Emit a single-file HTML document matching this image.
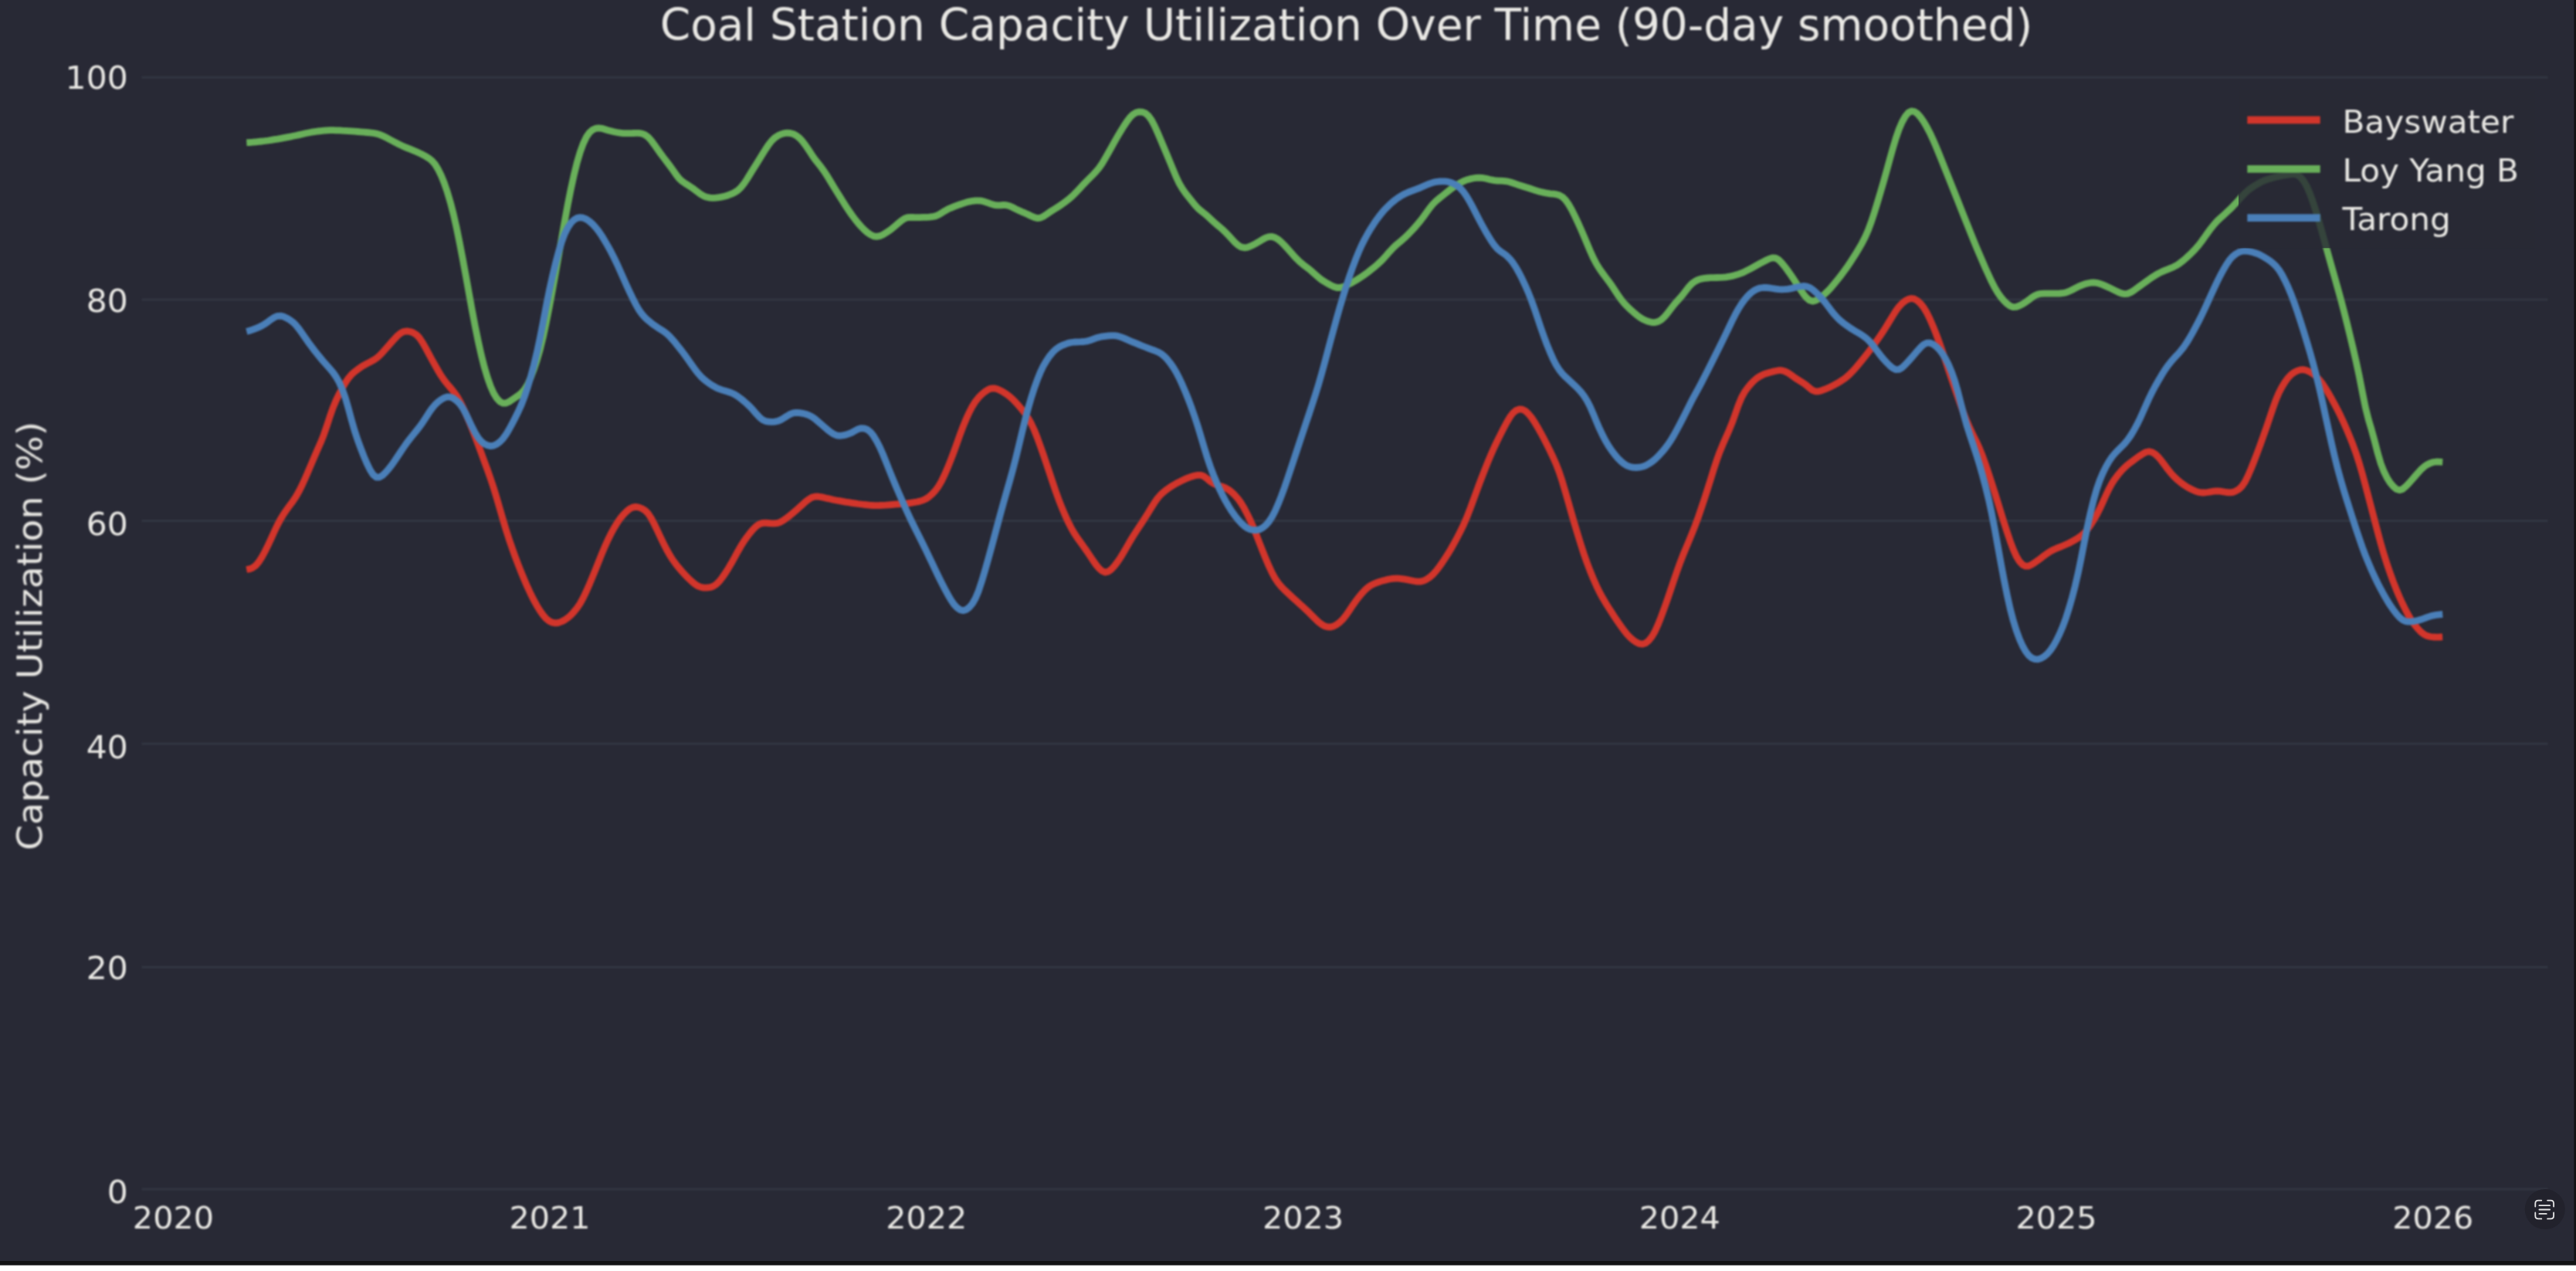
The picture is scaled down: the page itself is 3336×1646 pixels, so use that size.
<!DOCTYPE html>
<html><head><meta charset="utf-8"><title>Coal Station Capacity Utilization</title>
<style>
html,body{margin:0;padding:0;background:#fff;}
body{width:3336px;height:1646px;overflow:hidden;}
svg{display:block;}
text{font-family:"DejaVu Sans","Liberation Sans",sans-serif;fill:#e9e8e4;}
.tick{font-size:42.5px;}
.xtick{font-size:41.3px;}
.leg{font-size:42.2px;}
.title{font-size:56.5px;}
.ylab{font-size:47.3px;}
.ln{fill:none;stroke-width:8.8;stroke-linejoin:round;stroke-linecap:butt;}
</style></head><body>
<svg width="3336" height="1646" viewBox="0 0 3336 1646">
<rect x="0" y="0" width="3336" height="1646" fill="#ffffff"/>
<rect x="0" y="0" width="3336" height="1638.6" fill="#121214"/>
<rect x="0" y="0" width="3333.4" height="1633" fill="#282935"/>

<defs><filter id="soft" color-interpolation-filters="sRGB" filterUnits="userSpaceOnUse" x="0" y="0" width="3336" height="1646"><feGaussianBlur stdDeviation="0.85"/></filter></defs>
<g filter="url(#soft)">
<line x1="183.5" x2="3299.6" y1="1540.0" y2="1540.0" stroke="#323642" stroke-width="3"/>
<line x1="183.5" x2="3299.6" y1="1252.5" y2="1252.5" stroke="#323642" stroke-width="3"/>
<line x1="183.5" x2="3299.6" y1="963.3" y2="963.3" stroke="#323642" stroke-width="3"/>
<line x1="183.5" x2="3299.6" y1="674.5" y2="674.5" stroke="#323642" stroke-width="3"/>
<line x1="183.5" x2="3299.6" y1="388.0" y2="388.0" stroke="#323642" stroke-width="3"/>
<line x1="183.5" x2="3299.6" y1="100.3" y2="100.3" stroke="#323642" stroke-width="3"/>
<path class="ln" stroke="#d2352b" d="M319.2 737.5 L323.2 736.8 L327.2 735.3 L331.2 732.4 L335.2 727.7 L339.2 721.4 L343.2 714.0 L347.2 705.9 L351.2 697.3 L355.2 688.5 L359.2 680.1 L363.2 672.6 L367.2 666.0 L371.2 660.1 L375.2 654.7 L379.2 649.3 L383.2 643.3 L387.2 636.3 L391.2 628.3 L395.2 619.5 L399.2 610.3 L403.2 600.9 L407.2 591.5 L411.2 582.3 L415.2 573.3 L419.2 563.3 L423.2 551.8 L427.2 539.5 L431.2 528.1 L435.2 518.5 L439.2 510.3 L443.2 502.7 L447.2 495.8 L451.2 489.8 L455.2 485.1 L459.2 481.4 L463.2 478.4 L467.2 475.6 L471.2 473.1 L475.2 470.9 L479.2 468.9 L483.2 466.7 L487.2 464.1 L491.2 460.8 L495.2 456.7 L499.2 452.2 L503.2 447.6 L507.2 443.0 L511.2 438.6 L515.2 434.4 L519.2 431.2 L523.2 429.3 L527.2 428.9 L531.2 429.5 L535.2 430.9 L539.2 433.4 L543.2 437.6 L547.2 443.6 L551.2 450.7 L555.2 458.1 L559.2 465.5 L563.2 472.7 L567.2 479.7 L571.2 486.4 L575.2 492.3 L579.2 497.4 L583.2 502.0 L587.2 506.8 L591.2 512.3 L595.2 519.1 L599.2 527.0 L603.2 535.7 L607.2 545.0 L611.2 554.8 L615.2 565.1 L619.2 575.8 L623.2 586.5 L627.2 597.4 L631.2 608.3 L635.2 619.6 L639.2 631.6 L643.2 644.7 L647.2 658.4 L651.2 672.3 L655.2 685.7 L659.2 698.2 L663.2 709.8 L667.2 720.9 L671.2 731.5 L675.2 741.6 L679.2 751.2 L683.2 760.4 L687.2 769.0 L691.2 777.0 L695.2 784.2 L699.2 790.7 L703.2 796.4 L707.2 801.1 L711.2 804.3 L715.2 806.2 L719.2 806.9 L723.2 806.5 L727.2 805.0 L731.2 803.0 L735.2 800.2 L739.2 796.7 L743.2 792.4 L747.2 787.5 L751.2 781.6 L755.2 774.3 L759.2 766.0 L763.2 756.9 L767.2 747.4 L771.2 737.6 L775.2 727.6 L779.2 717.7 L783.2 708.1 L787.2 699.2 L791.2 691.2 L795.2 683.9 L799.2 677.3 L803.2 671.4 L807.2 666.6 L811.2 662.5 L815.2 659.2 L819.2 657.1 L823.2 656.4 L827.2 657.0 L831.2 658.5 L835.2 660.9 L839.2 664.9 L843.2 670.9 L847.2 678.5 L851.2 686.9 L855.2 695.3 L859.2 703.6 L863.2 711.5 L867.2 718.7 L871.2 725.0 L875.2 730.4 L879.2 735.4 L883.2 740.1 L887.2 744.5 L891.2 748.6 L895.2 752.4 L899.2 755.8 L903.2 758.6 L907.2 760.3 L911.2 761.1 L915.2 761.1 L919.2 760.7 L923.2 759.5 L927.2 757.1 L931.2 753.2 L935.2 748.1 L939.2 742.4 L943.2 736.1 L947.2 729.3 L951.2 722.1 L955.2 714.7 L959.2 707.7 L963.2 701.3 L967.2 695.6 L971.2 690.4 L975.2 685.7 L979.2 681.7 L983.2 678.9 L987.2 677.5 L991.2 677.2 L995.2 677.5 L999.2 677.8 L1003.2 677.9 L1007.2 677.3 L1011.2 675.8 L1015.2 673.4 L1019.2 670.5 L1023.2 667.4 L1027.2 664.1 L1031.2 660.7 L1035.2 657.1 L1039.2 653.4 L1043.2 649.8 L1047.2 646.7 L1051.2 644.3 L1055.2 643.1 L1059.2 643.0 L1063.2 643.6 L1067.2 644.4 L1071.2 645.4 L1075.2 646.3 L1079.2 647.2 L1083.2 648.0 L1087.2 648.7 L1091.2 649.4 L1095.2 650.1 L1099.2 650.7 L1103.2 651.3 L1107.2 651.9 L1111.2 652.5 L1115.2 653.0 L1119.2 653.5 L1123.2 653.9 L1127.2 654.3 L1131.2 654.5 L1135.2 654.6 L1139.2 654.5 L1143.2 654.3 L1147.2 654.1 L1151.2 653.8 L1155.2 653.5 L1159.2 653.2 L1163.2 652.9 L1167.2 652.6 L1171.2 652.3 L1175.2 651.9 L1179.2 651.3 L1183.2 650.7 L1187.2 650.0 L1191.2 649.1 L1195.2 647.9 L1199.2 646.0 L1203.2 643.3 L1207.2 639.8 L1211.2 635.5 L1215.2 630.1 L1219.2 623.2 L1223.2 615.0 L1227.2 605.8 L1231.2 595.9 L1235.2 585.4 L1239.2 574.3 L1243.2 563.0 L1247.2 552.4 L1251.2 542.7 L1255.2 534.0 L1259.2 526.3 L1263.2 519.9 L1267.2 514.9 L1271.2 510.9 L1275.2 507.5 L1279.2 504.8 L1283.2 503.1 L1287.2 502.8 L1291.2 503.8 L1295.2 505.5 L1299.2 507.7 L1303.2 510.2 L1307.2 513.2 L1311.2 516.8 L1315.2 520.9 L1319.2 525.3 L1323.2 530.0 L1327.2 535.1 L1331.2 541.0 L1335.2 548.0 L1339.2 556.5 L1343.2 566.5 L1347.2 577.4 L1351.2 588.8 L1355.2 600.6 L1359.2 612.5 L1363.2 624.5 L1367.2 636.3 L1371.2 647.3 L1375.2 657.5 L1379.2 666.9 L1383.2 675.7 L1387.2 683.6 L1391.2 690.5 L1395.2 696.6 L1399.2 702.1 L1403.2 707.7 L1407.2 713.4 L1411.2 719.4 L1415.2 725.4 L1419.2 731.1 L1423.2 736.0 L1427.2 739.5 L1431.2 741.1 L1435.2 740.3 L1439.2 737.4 L1443.2 733.0 L1447.2 727.8 L1451.2 721.9 L1455.2 715.3 L1459.2 708.4 L1463.2 701.4 L1467.2 694.8 L1471.2 688.5 L1475.2 682.4 L1479.2 676.4 L1483.2 670.2 L1487.2 663.7 L1491.2 657.1 L1495.2 650.8 L1499.2 645.1 L1503.2 640.6 L1507.2 636.9 L1511.2 633.8 L1515.2 631.0 L1519.2 628.5 L1523.2 626.2 L1527.2 624.1 L1531.2 622.1 L1535.2 620.2 L1539.2 618.6 L1543.2 617.2 L1547.2 616.0 L1551.2 615.3 L1555.2 615.4 L1559.2 616.9 L1563.2 619.9 L1567.2 623.4 L1571.2 626.1 L1575.2 627.9 L1579.2 629.1 L1583.2 630.3 L1587.2 631.9 L1591.2 634.3 L1595.2 637.5 L1599.2 641.3 L1603.2 645.8 L1607.2 651.4 L1611.2 658.1 L1615.2 665.7 L1619.2 673.9 L1623.2 683.1 L1627.2 693.1 L1631.2 703.5 L1635.2 713.7 L1639.2 723.6 L1643.2 732.9 L1647.2 741.5 L1651.2 748.9 L1655.2 754.8 L1659.2 759.6 L1663.2 763.7 L1667.2 767.5 L1671.2 771.3 L1675.2 775.0 L1679.2 778.6 L1683.2 782.2 L1687.2 785.8 L1691.2 789.5 L1695.2 793.3 L1699.2 797.3 L1703.2 801.4 L1707.2 805.2 L1711.2 808.4 L1715.2 810.7 L1719.2 811.9 L1723.2 812.0 L1727.2 810.9 L1731.2 808.8 L1735.2 805.7 L1739.2 801.8 L1743.2 796.8 L1747.2 791.0 L1751.2 784.9 L1755.2 779.2 L1759.2 773.9 L1763.2 769.0 L1767.2 764.6 L1771.2 760.9 L1775.2 758.1 L1779.2 756.1 L1783.2 754.5 L1787.2 753.1 L1791.2 751.9 L1795.2 750.9 L1799.2 750.0 L1803.2 749.4 L1807.2 749.1 L1811.2 749.2 L1815.2 749.6 L1819.2 750.2 L1823.2 750.9 L1827.2 751.7 L1831.2 752.5 L1835.2 753.1 L1839.2 753.1 L1843.2 752.2 L1847.2 750.4 L1851.2 747.8 L1855.2 744.4 L1859.2 740.1 L1863.2 735.0 L1867.2 729.4 L1871.2 723.4 L1875.2 717.2 L1879.2 710.5 L1883.2 703.4 L1887.2 696.0 L1891.2 688.2 L1895.2 680.0 L1899.2 670.8 L1903.2 660.7 L1907.2 649.9 L1911.2 638.9 L1915.2 628.1 L1919.2 617.6 L1923.2 607.4 L1927.2 597.4 L1931.2 588.0 L1935.2 579.0 L1939.2 570.6 L1943.2 562.6 L1947.2 554.8 L1951.2 547.2 L1955.2 540.4 L1959.2 535.0 L1963.2 531.6 L1967.2 530.0 L1971.2 530.1 L1975.2 532.1 L1979.2 535.7 L1983.2 540.5 L1987.2 546.5 L1991.2 553.2 L1995.2 560.3 L1999.2 567.8 L2003.2 575.5 L2007.2 583.6 L2011.2 592.0 L2015.2 601.0 L2019.2 611.3 L2023.2 623.4 L2027.2 636.9 L2031.2 650.9 L2035.2 665.0 L2039.2 678.7 L2043.2 692.1 L2047.2 705.0 L2051.2 717.4 L2055.2 728.8 L2059.2 739.3 L2063.2 749.0 L2067.2 758.1 L2071.2 766.4 L2075.2 773.8 L2079.2 780.6 L2083.2 787.0 L2087.2 793.2 L2091.2 799.3 L2095.2 805.3 L2099.2 811.0 L2103.2 816.5 L2107.2 821.5 L2111.2 825.7 L2115.2 829.1 L2119.2 831.8 L2123.2 833.7 L2127.2 834.2 L2131.2 832.8 L2135.2 829.6 L2139.2 824.6 L2143.2 817.7 L2147.2 808.9 L2151.2 798.8 L2155.2 788.0 L2159.2 776.7 L2163.2 765.0 L2167.2 753.1 L2171.2 741.3 L2175.2 730.2 L2179.2 719.8 L2183.2 710.1 L2187.2 700.6 L2191.2 690.9 L2195.2 680.8 L2199.2 669.9 L2203.2 658.3 L2207.2 646.3 L2211.2 633.9 L2215.2 621.2 L2219.2 608.3 L2223.2 596.1 L2227.2 585.1 L2231.2 575.3 L2235.2 566.2 L2239.2 557.2 L2243.2 547.4 L2247.2 536.3 L2251.2 524.9 L2255.2 515.2 L2259.2 507.8 L2263.2 502.2 L2267.2 497.4 L2271.2 493.3 L2275.2 489.8 L2279.2 487.2 L2283.2 485.2 L2287.2 483.7 L2291.2 482.5 L2295.2 481.4 L2299.2 480.5 L2303.2 479.7 L2307.2 479.7 L2311.2 480.7 L2315.2 482.7 L2319.2 485.4 L2323.2 488.3 L2327.2 491.0 L2331.2 493.5 L2335.2 496.0 L2339.2 498.9 L2343.2 502.3 L2347.2 505.4 L2351.2 506.9 L2355.2 506.8 L2359.2 505.7 L2363.2 504.2 L2367.2 502.5 L2371.2 500.7 L2375.2 498.6 L2379.2 496.4 L2383.2 494.0 L2387.2 491.4 L2391.2 488.4 L2395.2 484.9 L2399.2 480.8 L2403.2 476.3 L2407.2 471.6 L2411.2 466.7 L2415.2 461.7 L2419.2 456.6 L2423.2 451.3 L2427.2 445.8 L2431.2 440.2 L2435.2 434.4 L2439.2 428.5 L2443.2 422.2 L2447.2 415.6 L2451.2 409.0 L2455.2 402.7 L2459.2 397.2 L2463.2 392.9 L2467.2 389.7 L2471.2 387.5 L2475.2 386.5 L2479.2 387.2 L2483.2 389.5 L2487.2 393.2 L2491.2 398.3 L2495.2 404.9 L2499.2 413.0 L2503.2 422.2 L2507.2 432.1 L2511.2 442.9 L2515.2 454.3 L2519.2 466.2 L2523.2 478.3 L2527.2 490.2 L2531.2 501.9 L2535.2 513.4 L2539.2 524.8 L2543.2 535.7 L2547.2 545.8 L2551.2 555.0 L2555.2 563.3 L2559.2 571.4 L2563.2 580.1 L2567.2 589.9 L2571.2 601.0 L2575.2 612.8 L2579.2 625.1 L2583.2 637.7 L2587.2 650.6 L2591.2 663.6 L2595.2 676.5 L2599.2 688.9 L2603.2 700.7 L2607.2 711.4 L2611.2 720.4 L2615.2 727.0 L2619.2 731.3 L2623.2 733.2 L2627.2 733.0 L2631.2 731.1 L2635.2 728.5 L2639.2 725.7 L2643.2 722.7 L2647.2 719.6 L2651.2 716.7 L2655.2 714.1 L2659.2 712.0 L2663.2 710.2 L2667.2 708.6 L2671.2 707.0 L2675.2 705.3 L2679.2 703.5 L2683.2 701.4 L2687.2 699.1 L2691.2 696.7 L2695.2 693.9 L2699.2 690.4 L2703.2 685.8 L2707.2 680.2 L2711.2 673.9 L2715.2 667.0 L2719.2 659.1 L2723.2 650.4 L2727.2 641.5 L2731.2 633.1 L2735.2 625.8 L2739.2 619.8 L2743.2 614.5 L2747.2 609.8 L2751.2 605.7 L2755.2 602.1 L2759.2 598.9 L2763.2 595.9 L2767.2 593.0 L2771.2 590.2 L2775.2 587.6 L2779.2 585.5 L2783.2 584.7 L2787.2 585.7 L2791.2 588.2 L2795.2 592.0 L2799.2 596.8 L2803.2 602.2 L2807.2 607.6 L2811.2 612.6 L2815.2 617.0 L2819.2 620.8 L2823.2 624.2 L2827.2 627.3 L2831.2 629.9 L2835.2 632.3 L2839.2 634.3 L2843.2 636.1 L2847.2 637.4 L2851.2 638.0 L2855.2 638.0 L2859.2 637.5 L2863.2 636.8 L2867.2 636.2 L2871.2 636.0 L2875.2 636.2 L2879.2 636.8 L2883.2 637.5 L2887.2 637.9 L2891.2 637.5 L2895.2 636.1 L2899.2 633.7 L2903.2 630.0 L2907.2 624.2 L2911.2 616.3 L2915.2 607.0 L2919.2 597.0 L2923.2 586.5 L2927.2 575.7 L2931.2 564.6 L2935.2 553.2 L2939.2 541.4 L2943.2 529.5 L2947.2 518.3 L2951.2 508.8 L2955.2 501.1 L2959.2 494.6 L2963.2 489.2 L2967.2 485.0 L2971.2 482.1 L2975.2 480.1 L2979.2 478.9 L2983.2 478.7 L2987.2 479.7 L2991.2 481.6 L2995.2 484.1 L2999.2 487.1 L3003.2 491.2 L3007.2 496.3 L3011.2 502.3 L3015.2 508.9 L3019.2 515.8 L3023.2 523.1 L3027.2 530.7 L3031.2 538.8 L3035.2 547.4 L3039.2 556.5 L3043.2 566.1 L3047.2 576.2 L3051.2 587.2 L3055.2 599.6 L3059.2 613.4 L3063.2 628.2 L3067.2 643.4 L3071.2 658.7 L3075.2 673.9 L3079.2 689.1 L3083.2 703.8 L3087.2 717.7 L3091.2 730.3 L3095.2 742.0 L3099.2 753.0 L3103.2 763.2 L3107.2 772.7 L3111.2 781.5 L3115.2 789.6 L3119.2 797.1 L3123.2 803.7 L3127.2 809.4 L3131.2 814.3 L3135.2 818.5 L3139.2 821.6 L3143.2 823.5 L3147.2 824.5 L3151.2 825.0 L3155.2 825.1 L3159.2 825.0 L3163.2 824.8"/>
<path class="ln" stroke="#69b05a" d="M319.3 184.7 L323.3 184.5 L327.3 184.2 L331.3 183.8 L335.3 183.4 L339.3 183.0 L343.3 182.5 L347.3 182.0 L351.3 181.4 L355.3 180.7 L359.3 180.1 L363.3 179.4 L367.3 178.6 L371.3 177.9 L375.3 177.2 L379.3 176.3 L383.3 175.5 L387.3 174.6 L391.3 173.7 L395.3 172.8 L399.3 172.0 L403.3 171.2 L407.3 170.6 L411.3 170.0 L415.3 169.6 L419.3 169.2 L423.3 168.8 L427.3 168.7 L431.3 168.6 L435.3 168.8 L439.3 168.9 L443.3 169.2 L447.3 169.4 L451.3 169.6 L455.3 169.9 L459.3 170.2 L463.3 170.5 L467.3 170.8 L471.3 171.1 L475.3 171.5 L479.3 171.9 L483.3 172.3 L487.3 173.1 L491.3 174.2 L495.3 175.8 L499.3 177.7 L503.3 179.8 L507.3 182.0 L511.3 184.1 L515.3 186.2 L519.3 188.1 L523.3 189.9 L527.3 191.6 L531.3 193.2 L535.3 194.8 L539.3 196.5 L543.3 198.4 L547.3 200.3 L551.3 202.4 L555.3 204.9 L559.3 208.1 L563.3 212.7 L567.3 219.1 L571.3 227.2 L575.3 237.0 L579.3 248.7 L583.3 262.2 L587.3 277.6 L591.3 295.3 L595.3 314.8 L599.3 335.6 L603.3 357.3 L607.3 379.5 L611.3 401.5 L615.3 422.5 L619.3 442.0 L623.3 459.9 L627.3 475.6 L631.3 489.1 L635.3 500.3 L639.3 509.2 L643.3 515.8 L647.3 520.1 L651.3 522.2 L655.3 522.0 L659.3 520.2 L663.3 517.6 L667.3 514.9 L671.3 512.1 L675.3 508.9 L679.3 504.3 L683.3 497.8 L687.3 489.0 L691.3 478.5 L695.3 466.6 L699.3 452.8 L703.3 436.5 L707.3 417.8 L711.3 397.6 L715.3 376.4 L719.3 354.5 L723.3 331.8 L727.3 308.9 L731.3 286.4 L735.3 264.9 L739.3 244.9 L743.3 226.6 L747.3 210.5 L751.3 197.0 L755.3 186.0 L759.3 177.6 L763.3 171.8 L767.3 168.3 L771.3 166.4 L775.3 165.8 L779.3 166.3 L783.3 167.5 L787.3 168.7 L791.3 169.7 L795.3 170.7 L799.3 171.5 L803.3 172.2 L807.3 172.6 L811.3 172.7 L815.3 172.6 L819.3 172.5 L823.3 172.3 L827.3 172.4 L831.3 173.0 L835.3 174.6 L839.3 177.5 L843.3 181.9 L847.3 187.3 L851.3 193.0 L855.3 198.6 L859.3 204.0 L863.3 209.2 L867.3 214.5 L871.3 220.0 L875.3 225.8 L879.3 231.0 L883.3 234.7 L887.3 237.5 L891.3 240.0 L895.3 242.6 L899.3 245.4 L903.3 248.4 L907.3 251.4 L911.3 253.8 L915.3 255.3 L919.3 256.1 L923.3 256.3 L927.3 256.1 L931.3 255.6 L935.3 254.9 L939.3 254.0 L943.3 252.7 L947.3 251.2 L951.3 249.3 L955.3 246.7 L959.3 243.1 L963.3 238.1 L967.3 232.1 L971.3 225.6 L975.3 219.2 L979.3 212.8 L983.3 206.4 L987.3 199.9 L991.3 193.5 L995.3 187.5 L999.3 182.4 L1003.3 178.5 L1007.3 175.8 L1011.3 173.9 L1015.3 172.7 L1019.3 172.2 L1023.3 172.5 L1027.3 173.5 L1031.3 175.6 L1035.3 178.8 L1039.3 183.1 L1043.3 188.4 L1047.3 194.3 L1051.3 200.4 L1055.3 206.2 L1059.3 211.3 L1063.3 216.3 L1067.3 221.8 L1071.3 228.0 L1075.3 234.6 L1079.3 241.2 L1083.3 247.7 L1087.3 254.1 L1091.3 260.5 L1095.3 266.8 L1099.3 272.9 L1103.3 278.6 L1107.3 284.0 L1111.3 289.0 L1115.3 293.5 L1119.3 297.6 L1123.3 301.1 L1127.3 303.9 L1131.3 305.8 L1135.3 306.4 L1139.3 305.7 L1143.3 304.0 L1147.3 301.6 L1151.3 298.9 L1155.3 295.9 L1159.3 292.6 L1163.3 289.2 L1167.3 285.9 L1171.3 283.2 L1175.3 281.7 L1179.3 281.3 L1183.3 281.5 L1187.3 281.6 L1191.3 281.6 L1195.3 281.4 L1199.3 281.3 L1203.3 281.1 L1207.3 280.7 L1211.3 279.9 L1215.3 278.2 L1219.3 275.9 L1223.3 273.3 L1227.3 271.1 L1231.3 269.3 L1235.3 267.7 L1239.3 266.2 L1243.3 264.7 L1247.3 263.4 L1251.3 262.1 L1255.3 261.1 L1259.3 260.3 L1263.3 259.8 L1267.3 259.8 L1271.3 260.2 L1275.3 261.3 L1279.3 262.7 L1283.3 264.1 L1287.3 265.3 L1291.3 265.9 L1295.3 265.8 L1299.3 265.5 L1303.3 265.7 L1307.3 266.7 L1311.3 268.5 L1315.3 270.6 L1319.3 272.5 L1323.3 274.3 L1327.3 275.9 L1331.3 277.7 L1335.3 279.7 L1339.3 281.4 L1343.3 282.5 L1347.3 282.1 L1351.3 280.2 L1355.3 277.6 L1359.3 274.8 L1363.3 272.2 L1367.3 269.8 L1371.3 267.2 L1375.3 264.5 L1379.3 261.6 L1383.3 258.6 L1387.3 255.2 L1391.3 251.4 L1395.3 247.2 L1399.3 242.9 L1403.3 238.6 L1407.3 234.5 L1411.3 230.5 L1415.3 226.5 L1419.3 222.3 L1423.3 217.5 L1427.3 211.7 L1431.3 205.0 L1435.3 198.0 L1439.3 190.8 L1443.3 183.6 L1447.3 176.6 L1451.3 169.9 L1455.3 163.5 L1459.3 157.5 L1463.3 152.2 L1467.3 148.2 L1471.3 145.8 L1475.3 144.9 L1479.3 145.2 L1483.3 146.7 L1487.3 150.1 L1491.3 155.6 L1495.3 163.2 L1499.3 172.1 L1503.3 181.5 L1507.3 191.0 L1511.3 200.5 L1515.3 210.1 L1519.3 219.9 L1523.3 229.4 L1527.3 237.8 L1531.3 244.5 L1535.3 250.2 L1539.3 255.3 L1543.3 260.3 L1547.3 265.2 L1551.3 269.6 L1555.3 273.1 L1559.3 276.2 L1563.3 279.5 L1567.3 283.2 L1571.3 286.9 L1575.3 290.5 L1579.3 293.8 L1583.3 297.3 L1587.3 301.1 L1591.3 305.2 L1595.3 309.6 L1599.3 313.9 L1603.3 317.5 L1607.3 319.9 L1611.3 320.8 L1615.3 320.3 L1619.3 318.9 L1623.3 317.0 L1627.3 314.8 L1631.3 312.4 L1635.3 310.0 L1639.3 307.9 L1643.3 306.6 L1647.3 306.5 L1651.3 307.8 L1655.3 310.1 L1659.3 313.5 L1663.3 317.5 L1667.3 321.9 L1671.3 326.4 L1675.3 330.9 L1679.3 335.2 L1683.3 339.1 L1687.3 342.4 L1691.3 345.4 L1695.3 348.5 L1699.3 351.9 L1703.3 355.5 L1707.3 359.1 L1711.3 362.2 L1715.3 364.8 L1719.3 367.2 L1723.3 369.4 L1727.3 371.3 L1731.3 372.5 L1735.3 372.5 L1739.3 371.5 L1743.3 369.9 L1747.3 367.9 L1751.3 365.8 L1755.3 363.5 L1759.3 361.0 L1763.3 358.4 L1767.3 355.6 L1771.3 352.7 L1775.3 349.6 L1779.3 346.4 L1783.3 343.0 L1787.3 339.3 L1791.3 335.3 L1795.3 330.9 L1799.3 326.2 L1803.3 321.9 L1807.3 318.0 L1811.3 314.7 L1815.3 311.3 L1819.3 307.7 L1823.3 303.9 L1827.3 299.8 L1831.3 295.5 L1835.3 290.9 L1839.3 286.1 L1843.3 280.9 L1847.3 275.3 L1851.3 269.7 L1855.3 264.8 L1859.3 260.7 L1863.3 257.3 L1867.3 254.1 L1871.3 250.9 L1875.3 247.7 L1879.3 244.6 L1883.3 241.7 L1887.3 239.1 L1891.3 236.7 L1895.3 234.6 L1899.3 233.0 L1903.3 231.9 L1907.3 231.0 L1911.3 230.4 L1915.3 230.1 L1919.3 230.3 L1923.3 231.0 L1927.3 231.9 L1931.3 232.9 L1935.3 233.6 L1939.3 234.0 L1943.3 234.1 L1947.3 234.3 L1951.3 234.8 L1955.3 235.7 L1959.3 237.0 L1963.3 238.4 L1967.3 239.8 L1971.3 241.0 L1975.3 242.3 L1979.3 243.5 L1983.3 244.8 L1987.3 246.2 L1991.3 247.4 L1995.3 248.5 L1999.3 249.4 L2003.3 250.2 L2007.3 250.8 L2011.3 251.2 L2015.3 251.7 L2019.3 252.8 L2023.3 255.0 L2027.3 258.9 L2031.3 264.5 L2035.3 271.4 L2039.3 279.4 L2043.3 287.9 L2047.3 296.7 L2051.3 305.9 L2055.3 315.5 L2059.3 325.0 L2063.3 333.9 L2067.3 341.5 L2071.3 348.0 L2075.3 353.6 L2079.3 359.0 L2083.3 364.3 L2087.3 369.9 L2091.3 376.0 L2095.3 382.1 L2099.3 387.8 L2103.3 392.7 L2107.3 396.9 L2111.3 400.7 L2115.3 404.3 L2119.3 407.7 L2123.3 410.7 L2127.3 413.2 L2131.3 415.1 L2135.3 416.6 L2139.3 417.6 L2143.3 417.6 L2147.3 416.5 L2151.3 414.2 L2155.3 410.6 L2159.3 405.9 L2163.3 400.6 L2167.3 395.4 L2171.3 390.7 L2175.3 386.3 L2179.3 381.6 L2183.3 376.4 L2187.3 371.3 L2191.3 367.1 L2195.3 364.2 L2199.3 362.2 L2203.3 361.1 L2207.3 360.4 L2211.3 360.0 L2215.3 359.7 L2219.3 359.6 L2223.3 359.5 L2227.3 359.4 L2231.3 359.2 L2235.3 358.8 L2239.3 358.2 L2243.3 357.4 L2247.3 356.3 L2251.3 355.1 L2255.3 353.7 L2259.3 351.9 L2263.3 349.9 L2267.3 347.8 L2271.3 345.6 L2275.3 343.4 L2279.3 341.2 L2283.3 339.1 L2287.3 337.0 L2291.3 335.1 L2295.3 333.9 L2299.3 334.1 L2303.3 336.4 L2307.3 340.4 L2311.3 345.2 L2315.3 350.6 L2319.3 356.3 L2323.3 362.3 L2327.3 368.4 L2331.3 374.5 L2335.3 380.4 L2339.3 385.4 L2343.3 388.8 L2347.3 390.1 L2351.3 389.3 L2355.3 387.0 L2359.3 384.0 L2363.3 380.5 L2367.3 376.7 L2371.3 372.4 L2375.3 367.7 L2379.3 362.8 L2383.3 357.7 L2387.3 352.4 L2391.3 346.9 L2395.3 341.1 L2399.3 334.9 L2403.3 328.6 L2407.3 322.0 L2411.3 315.1 L2415.3 307.3 L2419.3 298.3 L2423.3 287.5 L2427.3 275.3 L2431.3 262.4 L2435.3 249.0 L2439.3 235.3 L2443.3 221.0 L2447.3 206.4 L2451.3 192.1 L2455.3 178.8 L2459.3 167.3 L2463.3 158.0 L2467.3 150.8 L2471.3 146.0 L2475.3 143.9 L2479.3 144.5 L2483.3 147.4 L2487.3 152.0 L2491.3 157.8 L2495.3 164.6 L2499.3 172.2 L2503.3 180.8 L2507.3 190.0 L2511.3 199.7 L2515.3 209.6 L2519.3 219.6 L2523.3 229.6 L2527.3 239.6 L2531.3 249.7 L2535.3 259.7 L2539.3 269.8 L2543.3 279.8 L2547.3 289.9 L2551.3 299.9 L2555.3 309.9 L2559.3 319.6 L2563.3 329.0 L2567.3 338.3 L2571.3 347.4 L2575.3 356.3 L2579.3 364.8 L2583.3 372.6 L2587.3 379.3 L2591.3 384.9 L2595.3 389.6 L2599.3 393.5 L2603.3 396.4 L2607.3 397.7 L2611.3 397.4 L2615.3 395.9 L2619.3 393.9 L2623.3 391.3 L2627.3 388.4 L2631.3 385.3 L2635.3 382.8 L2639.3 381.1 L2643.3 380.3 L2647.3 380.1 L2651.3 380.1 L2655.3 380.1 L2659.3 380.1 L2663.3 380.1 L2667.3 380.0 L2671.3 379.7 L2675.3 378.9 L2679.3 377.4 L2683.3 375.5 L2687.3 373.4 L2691.3 371.3 L2695.3 369.6 L2699.3 368.1 L2703.3 367.0 L2707.3 366.2 L2711.3 365.9 L2715.3 366.3 L2719.3 367.4 L2723.3 368.9 L2727.3 370.6 L2731.3 372.4 L2735.3 374.4 L2739.3 376.4 L2743.3 378.3 L2747.3 379.9 L2751.3 380.7 L2755.3 380.3 L2759.3 378.7 L2763.3 376.2 L2767.3 373.3 L2771.3 370.4 L2775.3 367.5 L2779.3 364.6 L2783.3 361.7 L2787.3 358.9 L2791.3 356.4 L2795.3 354.1 L2799.3 352.1 L2803.3 350.4 L2807.3 348.8 L2811.3 347.2 L2815.3 345.4 L2819.3 343.3 L2823.3 340.6 L2827.3 337.5 L2831.3 334.0 L2835.3 330.3 L2839.3 326.4 L2843.3 322.2 L2847.3 317.6 L2851.3 312.4 L2855.3 306.8 L2859.3 301.1 L2863.3 295.7 L2867.3 290.7 L2871.3 286.3 L2875.3 282.5 L2879.3 278.9 L2883.3 275.3 L2887.3 271.6 L2891.3 267.6 L2895.3 263.3 L2899.3 258.8 L2903.3 254.4 L2907.3 250.2 L2911.3 246.6 L2915.3 243.5 L2919.3 240.8 L2923.3 238.4 L2927.3 236.1 L2931.3 234.2 L2935.3 232.7 L2939.3 231.4 L2943.3 230.3 L2947.3 229.3 L2951.3 228.4 L2955.3 227.5 L2959.3 226.8 L2963.3 226.1 L2967.3 225.6 L2971.3 225.5 L2975.3 226.6 L2979.3 229.5 L2983.3 234.4 L2987.3 241.3 L2991.3 250.4 L2995.3 261.4 L2999.3 273.8 L3003.3 287.2 L3007.3 301.4 L3011.3 315.9 L3015.3 330.3 L3019.3 344.5 L3023.3 358.5 L3027.3 372.7 L3031.3 387.2 L3035.3 402.4 L3039.3 418.2 L3043.3 434.5 L3047.3 451.1 L3051.3 468.5 L3055.3 487.2 L3059.3 507.7 L3063.3 527.5 L3067.3 543.5 L3071.3 556.8 L3075.3 571.5 L3079.3 587.1 L3083.3 600.5 L3087.3 610.8 L3091.3 618.8 L3095.3 625.1 L3099.3 629.9 L3103.3 633.3 L3107.3 634.7 L3111.3 633.5 L3115.3 630.2 L3119.3 626.1 L3123.3 621.6 L3127.3 617.0 L3131.3 612.4 L3135.3 608.1 L3139.3 604.4 L3143.3 601.7 L3147.3 599.7 L3151.3 598.5 L3155.3 598.0 L3159.3 598.1 L3163.3 598.3"/>
<path class="ln" stroke="#4a7fb8" d="M319.3 429.2 L323.3 428.2 L327.3 426.9 L331.3 425.4 L335.3 423.7 L339.3 421.7 L343.3 419.4 L347.3 416.6 L351.3 413.6 L355.3 411.0 L359.3 409.3 L363.3 409.1 L367.3 410.1 L371.3 411.9 L375.3 414.2 L379.3 417.2 L383.3 421.2 L387.3 426.1 L391.3 431.7 L395.3 437.5 L399.3 443.3 L403.3 448.7 L407.3 454.0 L411.3 459.0 L415.3 463.9 L419.3 468.7 L423.3 473.2 L427.3 477.7 L431.3 482.4 L435.3 488.1 L439.3 495.2 L443.3 504.2 L447.3 515.4 L451.3 529.2 L455.3 544.2 L459.3 558.0 L463.3 570.1 L467.3 580.9 L471.3 591.1 L475.3 600.5 L479.3 608.6 L483.3 614.8 L487.3 618.0 L491.3 618.1 L495.3 615.7 L499.3 611.9 L503.3 607.3 L507.3 602.2 L511.3 596.5 L515.3 590.5 L519.3 584.5 L523.3 578.6 L527.3 572.9 L531.3 567.7 L535.3 562.8 L539.3 557.9 L543.3 552.8 L547.3 547.2 L551.3 541.1 L555.3 534.8 L559.3 529.1 L563.3 524.3 L567.3 520.6 L571.3 517.6 L575.3 515.2 L579.3 513.9 L583.3 514.2 L587.3 515.9 L591.3 518.9 L595.3 522.9 L599.3 528.5 L603.3 535.9 L607.3 544.4 L611.3 552.8 L615.3 560.5 L619.3 567.0 L623.3 571.8 L627.3 574.9 L631.3 576.8 L635.3 577.6 L639.3 577.1 L643.3 575.3 L647.3 572.3 L651.3 568.2 L655.3 562.7 L659.3 556.0 L663.3 548.6 L667.3 540.9 L671.3 532.8 L675.3 523.9 L679.3 513.5 L683.3 501.5 L687.3 488.0 L691.3 473.1 L695.3 456.6 L699.3 437.9 L703.3 417.5 L707.3 396.6 L711.3 376.6 L715.3 358.4 L719.3 341.7 L723.3 326.6 L727.3 313.4 L731.3 302.7 L735.3 294.7 L739.3 288.8 L743.3 284.7 L747.3 282.4 L751.3 281.6 L755.3 282.2 L759.3 283.9 L763.3 286.6 L767.3 290.1 L771.3 294.4 L775.3 299.5 L779.3 305.4 L783.3 312.0 L787.3 318.9 L791.3 326.2 L795.3 334.0 L799.3 342.4 L803.3 351.3 L807.3 360.3 L811.3 369.2 L815.3 377.8 L819.3 386.2 L823.3 394.1 L827.3 401.1 L831.3 406.8 L835.3 411.2 L839.3 414.9 L843.3 418.2 L847.3 421.2 L851.3 423.9 L855.3 426.4 L859.3 429.0 L863.3 432.1 L867.3 435.8 L871.3 440.2 L875.3 444.9 L879.3 449.9 L883.3 455.0 L887.3 460.4 L891.3 466.0 L895.3 471.7 L899.3 477.3 L903.3 482.6 L907.3 487.2 L911.3 491.0 L915.3 494.2 L919.3 497.1 L923.3 499.7 L927.3 501.9 L931.3 503.7 L935.3 505.1 L939.3 506.3 L943.3 507.5 L947.3 508.9 L951.3 510.8 L955.3 513.3 L959.3 516.2 L963.3 519.5 L967.3 523.0 L971.3 526.8 L975.3 531.1 L979.3 535.8 L983.3 540.1 L987.3 543.5 L991.3 545.4 L995.3 546.2 L999.3 546.3 L1003.3 546.1 L1007.3 545.3 L1011.3 543.7 L1015.3 541.3 L1019.3 538.7 L1023.3 536.4 L1027.3 534.9 L1031.3 534.3 L1035.3 534.6 L1039.3 535.3 L1043.3 536.3 L1047.3 537.6 L1051.3 539.6 L1055.3 542.4 L1059.3 545.8 L1063.3 549.3 L1067.3 552.8 L1071.3 556.2 L1075.3 559.4 L1079.3 562.0 L1083.3 563.8 L1087.3 564.3 L1091.3 563.9 L1095.3 563.1 L1099.3 561.8 L1103.3 560.1 L1107.3 557.8 L1111.3 555.7 L1115.3 554.6 L1119.3 554.8 L1123.3 556.4 L1127.3 559.6 L1131.3 564.6 L1135.3 571.2 L1139.3 579.0 L1143.3 588.0 L1147.3 597.9 L1151.3 608.0 L1155.3 617.9 L1159.3 627.5 L1163.3 636.9 L1167.3 646.1 L1171.3 655.2 L1175.3 664.0 L1179.3 672.6 L1183.3 680.8 L1187.3 688.8 L1191.3 696.8 L1195.3 704.8 L1199.3 712.9 L1203.3 721.3 L1207.3 729.7 L1211.3 738.1 L1215.3 746.5 L1219.3 754.5 L1223.3 762.3 L1227.3 769.7 L1231.3 776.6 L1235.3 782.5 L1239.3 786.9 L1243.3 789.7 L1247.3 790.7 L1251.3 789.6 L1255.3 786.5 L1259.3 781.7 L1263.3 774.8 L1267.3 765.2 L1271.3 753.2 L1275.3 739.8 L1279.3 725.7 L1283.3 711.3 L1287.3 696.5 L1291.3 681.5 L1295.3 666.6 L1299.3 652.1 L1303.3 638.0 L1307.3 624.0 L1311.3 609.6 L1315.3 594.2 L1319.3 577.8 L1323.3 560.9 L1327.3 544.6 L1331.3 529.5 L1335.3 515.6 L1339.3 503.1 L1343.3 491.9 L1347.3 482.0 L1351.3 473.7 L1355.3 466.9 L1359.3 461.1 L1363.3 456.2 L1367.3 452.3 L1371.3 449.5 L1375.3 447.4 L1379.3 445.8 L1383.3 444.4 L1387.3 443.5 L1391.3 443.0 L1395.3 442.8 L1399.3 442.7 L1403.3 442.5 L1407.3 441.9 L1411.3 440.8 L1415.3 439.3 L1419.3 437.8 L1423.3 436.7 L1427.3 435.8 L1431.3 435.3 L1435.3 434.9 L1439.3 434.6 L1443.3 434.7 L1447.3 435.2 L1451.3 436.4 L1455.3 437.9 L1459.3 439.6 L1463.3 441.4 L1467.3 443.1 L1471.3 444.7 L1475.3 446.4 L1479.3 448.0 L1483.3 449.5 L1487.3 451.1 L1491.3 452.6 L1495.3 454.0 L1499.3 455.7 L1503.3 457.8 L1507.3 460.9 L1511.3 464.9 L1515.3 469.9 L1519.3 475.6 L1523.3 482.3 L1527.3 490.0 L1531.3 498.7 L1535.3 508.0 L1539.3 518.0 L1543.3 528.6 L1547.3 540.1 L1551.3 552.4 L1555.3 565.6 L1559.3 579.1 L1563.3 592.1 L1567.3 604.0 L1571.3 614.6 L1575.3 624.3 L1579.3 633.4 L1583.3 641.7 L1587.3 649.1 L1591.3 656.0 L1595.3 662.3 L1599.3 667.9 L1603.3 673.0 L1607.3 677.4 L1611.3 681.1 L1615.3 684.0 L1619.3 685.7 L1623.3 686.5 L1627.3 686.5 L1631.3 685.6 L1635.3 683.4 L1639.3 680.1 L1643.3 675.5 L1647.3 669.4 L1651.3 661.7 L1655.3 652.6 L1659.3 642.5 L1663.3 631.7 L1667.3 620.1 L1671.3 608.2 L1675.3 596.1 L1679.3 584.0 L1683.3 571.9 L1687.3 559.9 L1691.3 547.9 L1695.3 536.0 L1699.3 523.9 L1703.3 511.6 L1707.3 498.7 L1711.3 484.9 L1715.3 470.3 L1719.3 455.4 L1723.3 440.4 L1727.3 425.8 L1731.3 411.4 L1735.3 397.4 L1739.3 383.9 L1743.3 371.0 L1747.3 358.8 L1751.3 347.4 L1755.3 336.7 L1759.3 326.8 L1763.3 317.8 L1767.3 309.8 L1771.3 302.5 L1775.3 295.8 L1779.3 289.6 L1783.3 283.8 L1787.3 278.5 L1791.3 273.6 L1795.3 269.3 L1799.3 265.3 L1803.3 261.7 L1807.3 258.5 L1811.3 255.7 L1815.3 253.1 L1819.3 251.0 L1823.3 249.2 L1827.3 247.6 L1831.3 246.1 L1835.3 244.7 L1839.3 243.1 L1843.3 241.3 L1847.3 239.5 L1851.3 237.9 L1855.3 236.6 L1859.3 235.6 L1863.3 235.0 L1867.3 234.8 L1871.3 234.9 L1875.3 235.4 L1879.3 236.5 L1883.3 238.2 L1887.3 240.7 L1891.3 244.0 L1895.3 248.5 L1899.3 254.3 L1903.3 261.0 L1907.3 268.4 L1911.3 276.2 L1915.3 284.0 L1919.3 291.5 L1923.3 298.7 L1927.3 305.5 L1931.3 312.0 L1935.3 317.7 L1939.3 322.3 L1943.3 325.6 L1947.3 328.3 L1951.3 331.3 L1955.3 335.3 L1959.3 340.3 L1963.3 346.4 L1967.3 353.5 L1971.3 361.3 L1975.3 369.8 L1979.3 379.0 L1983.3 389.2 L1987.3 400.3 L1991.3 412.2 L1995.3 424.1 L1999.3 435.4 L2003.3 446.1 L2007.3 455.9 L2011.3 464.9 L2015.3 472.7 L2019.3 479.0 L2023.3 484.0 L2027.3 488.1 L2031.3 491.8 L2035.3 495.5 L2039.3 499.2 L2043.3 503.1 L2047.3 507.5 L2051.3 512.6 L2055.3 519.0 L2059.3 526.8 L2063.3 535.9 L2067.3 545.6 L2071.3 554.9 L2075.3 563.4 L2079.3 571.0 L2083.3 577.7 L2087.3 583.6 L2091.3 588.9 L2095.3 593.6 L2099.3 597.5 L2103.3 600.8 L2107.3 603.2 L2111.3 604.6 L2115.3 605.3 L2119.3 605.5 L2123.3 605.2 L2127.3 604.3 L2131.3 602.8 L2135.3 600.7 L2139.3 598.0 L2143.3 594.8 L2147.3 590.9 L2151.3 586.6 L2155.3 582.0 L2159.3 576.8 L2163.3 571.0 L2167.3 564.4 L2171.3 557.1 L2175.3 549.6 L2179.3 541.9 L2183.3 534.0 L2187.3 526.0 L2191.3 518.1 L2195.3 510.6 L2199.3 503.3 L2203.3 495.9 L2207.3 488.1 L2211.3 480.2 L2215.3 472.2 L2219.3 464.2 L2223.3 456.2 L2227.3 448.2 L2231.3 440.1 L2235.3 431.9 L2239.3 423.5 L2243.3 415.2 L2247.3 407.2 L2251.3 400.0 L2255.3 393.6 L2259.3 388.1 L2263.3 383.4 L2267.3 379.5 L2271.3 376.5 L2275.3 374.4 L2279.3 373.0 L2283.3 372.5 L2287.3 372.5 L2291.3 372.9 L2295.3 373.5 L2299.3 374.1 L2303.3 374.6 L2307.3 374.8 L2311.3 374.7 L2315.3 374.3 L2319.3 373.6 L2323.3 372.7 L2327.3 371.8 L2331.3 371.0 L2335.3 370.5 L2339.3 370.8 L2343.3 372.3 L2347.3 374.9 L2351.3 378.3 L2355.3 382.2 L2359.3 386.5 L2363.3 391.4 L2367.3 396.6 L2371.3 401.9 L2375.3 406.9 L2379.3 411.4 L2383.3 415.2 L2387.3 418.5 L2391.3 421.4 L2395.3 424.2 L2399.3 426.8 L2403.3 429.2 L2407.3 431.6 L2411.3 434.0 L2415.3 436.8 L2419.3 440.3 L2423.3 444.6 L2427.3 449.6 L2431.3 455.0 L2435.3 460.2 L2439.3 465.1 L2443.3 469.5 L2447.3 473.5 L2451.3 476.8 L2455.3 478.7 L2459.3 478.4 L2463.3 476.1 L2467.3 472.3 L2471.3 468.0 L2475.3 463.5 L2479.3 458.9 L2483.3 454.2 L2487.3 449.8 L2491.3 446.1 L2495.3 444.1 L2499.3 444.1 L2503.3 445.8 L2507.3 448.7 L2511.3 452.6 L2515.3 457.7 L2519.3 464.3 L2523.3 472.1 L2527.3 481.4 L2531.3 492.7 L2535.3 506.5 L2539.3 522.0 L2543.3 537.5 L2547.3 551.7 L2551.3 564.2 L2555.3 576.0 L2559.3 588.1 L2563.3 601.0 L2567.3 615.0 L2571.3 630.0 L2575.3 646.4 L2579.3 664.8 L2583.3 685.5 L2587.3 707.6 L2591.3 729.7 L2595.3 750.9 L2599.3 770.7 L2603.3 788.6 L2607.3 803.8 L2611.3 816.7 L2615.3 827.6 L2619.3 836.5 L2623.3 843.6 L2627.3 848.9 L2631.3 852.2 L2635.3 853.7 L2639.3 853.8 L2643.3 852.6 L2647.3 850.2 L2651.3 846.8 L2655.3 842.2 L2659.3 836.3 L2663.3 829.2 L2667.3 820.9 L2671.3 811.5 L2675.3 800.7 L2679.3 788.2 L2683.3 774.4 L2687.3 759.1 L2691.3 741.8 L2695.3 722.4 L2699.3 701.8 L2703.3 681.9 L2707.3 663.7 L2711.3 647.5 L2715.3 633.5 L2719.3 622.0 L2723.3 612.5 L2727.3 604.4 L2731.3 597.4 L2735.3 591.5 L2739.3 586.7 L2743.3 582.6 L2747.3 578.7 L2751.3 574.6 L2755.3 569.8 L2759.3 564.1 L2763.3 557.5 L2767.3 550.2 L2771.3 542.1 L2775.3 533.3 L2779.3 524.2 L2783.3 515.4 L2787.3 507.3 L2791.3 499.7 L2795.3 492.7 L2799.3 485.9 L2803.3 479.5 L2807.3 473.7 L2811.3 468.7 L2815.3 464.1 L2819.3 459.8 L2823.3 455.3 L2827.3 450.4 L2831.3 444.6 L2835.3 438.1 L2839.3 431.1 L2843.3 423.7 L2847.3 416.1 L2851.3 408.1 L2855.3 399.7 L2859.3 390.9 L2863.3 382.0 L2867.3 373.3 L2871.3 364.9 L2875.3 356.9 L2879.3 349.5 L2883.3 342.6 L2887.3 336.7 L2891.3 332.2 L2895.3 329.0 L2899.3 326.7 L2903.3 325.3 L2907.3 324.9 L2911.3 325.3 L2915.3 326.1 L2919.3 327.2 L2923.3 328.5 L2927.3 330.3 L2931.3 332.5 L2935.3 334.9 L2939.3 337.6 L2943.3 340.7 L2947.3 344.4 L2951.3 349.4 L2955.3 355.9 L2959.3 363.6 L2963.3 372.2 L2967.3 381.8 L2971.3 392.5 L2975.3 404.1 L2979.3 416.3 L2983.3 429.0 L2987.3 442.1 L2991.3 455.6 L2995.3 469.8 L2999.3 484.8 L3003.3 501.1 L3007.3 518.8 L3011.3 537.2 L3015.3 555.5 L3019.3 573.5 L3023.3 590.7 L3027.3 606.8 L3031.3 621.4 L3035.3 634.9 L3039.3 647.9 L3043.3 660.5 L3047.3 673.0 L3051.3 685.3 L3055.3 697.2 L3059.3 708.7 L3063.3 719.4 L3067.3 729.2 L3071.3 738.5 L3075.3 747.2 L3079.3 755.5 L3083.3 763.2 L3087.3 770.5 L3091.3 777.4 L3095.3 783.8 L3099.3 789.6 L3103.3 794.8 L3107.3 799.3 L3111.3 802.7 L3115.3 804.6 L3119.3 805.2 L3123.3 804.9 L3127.3 804.3 L3131.3 803.5 L3135.3 802.3 L3139.3 800.9 L3143.3 799.4 L3147.3 798.1 L3151.3 797.1 L3155.3 796.3 L3159.3 795.8 L3163.3 795.5"/>
</g>
<rect x="2899" y="116" width="384" height="205.3" fill="#282935" fill-opacity="0.8"/>
<g filter="url(#soft)">
<line x1="2910.3" x2="3004.7" y1="155.4" y2="155.4" stroke="#d2352b" stroke-width="9.7"/>
<text class="leg" transform="translate(3033.4,171.7) scale(1,0.98)">Bayswater</text>
<line x1="2910.3" x2="3004.7" y1="218.8" y2="218.8" stroke="#69b05a" stroke-width="9.7"/>
<text class="leg" transform="translate(3033.4,235.1) scale(1,0.98)">Loy Yang B</text>
<line x1="2910.3" x2="3004.7" y1="282.1" y2="282.1" stroke="#4a7fb8" stroke-width="9.7"/>
<text class="leg" transform="translate(3033.4,298.4) scale(1,0.98)">Tarong</text>
<text class="title" transform="translate(1743.5,51.6) scale(1,1.0)" text-anchor="middle">Coal Station Capacity Utilization Over Time (90-day smoothed)</text>
<text class="ylab" transform="translate(54.3,823.5) rotate(-90) scale(1,0.955)" text-anchor="middle">Capacity Utilization (%)</text>
<text class="tick" transform="translate(165.7,1557.6) scale(1,0.945)" text-anchor="end">0</text>
<text class="tick" transform="translate(165.7,1268.4) scale(1,0.945)" text-anchor="end">20</text>
<text class="tick" transform="translate(165.7,982.0) scale(1,0.945)" text-anchor="end">40</text>
<text class="tick" transform="translate(165.7,693.0) scale(1,0.945)" text-anchor="end">60</text>
<text class="tick" transform="translate(165.7,403.9) scale(1,0.945)" text-anchor="end">80</text>
<text class="tick" transform="translate(165.7,115.4) scale(1,0.945)" text-anchor="end">100</text>
<text class="xtick" transform="translate(224.4,1590.8) scale(1,0.955)" text-anchor="middle">2020</text>
<text class="xtick" transform="translate(712.1,1590.8) scale(1,0.955)" text-anchor="middle">2021</text>
<text class="xtick" transform="translate(1199.8,1590.8) scale(1,0.955)" text-anchor="middle">2022</text>
<text class="xtick" transform="translate(1687.6,1590.8) scale(1,0.955)" text-anchor="middle">2023</text>
<text class="xtick" transform="translate(2175.3,1590.8) scale(1,0.955)" text-anchor="middle">2024</text>
<text class="xtick" transform="translate(2663.0,1590.8) scale(1,0.955)" text-anchor="middle">2025</text>
<text class="xtick" transform="translate(3150.7,1590.8) scale(1,0.955)" text-anchor="middle">2026</text>
</g>
<circle cx="3295.8" cy="1566.0" r="26" fill="#22222c"/>
<g fill="none" stroke="#e6e6e6" stroke-width="1.8" stroke-linecap="round" transform="translate(3295.2000000000003,1566.5)">
<path d="M-11.9 -3.9000000000000012 V-8.100000000000001 Q-11.9 -11.9 -8.100000000000001 -11.9 H-3.9000000000000012"/>
<path d="M-11.9 3.9000000000000012 V8.100000000000001 Q-11.9 11.9 -8.100000000000001 11.9 H-3.9000000000000012"/>
<path d="M11.9 -3.9000000000000012 V-8.100000000000001 Q11.9 -11.9 8.100000000000001 -11.9 H3.9000000000000012"/>
<path d="M11.9 3.9000000000000012 V8.100000000000001 Q11.9 11.9 8.100000000000001 11.9 H3.9000000000000012"/>
<path d="M-6.8 -5.3 H6.9 M-6.8 0 H6.9 M-6.8 5.4 H2.5"/>
</g>
</svg></body></html>
